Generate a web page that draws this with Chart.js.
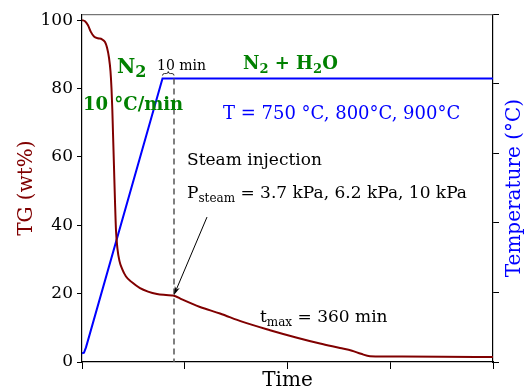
<!DOCTYPE html>
<html>
<head>
<meta charset="utf-8">
<script src="https://cdn.jsdelivr.net/npm/chart.js@4.4.1/dist/chart.umd.min.js"></script>
<style>
  html, body { margin: 0; padding: 0; background: #fff; }
</style>
</head>
<body>
<canvas id="c" width="528" height="392"></canvas>
<script>
// TG curve (time in min, mass in wt%)
const tgTime = [0, 3, 6, 9, 12, 16, 20, 23, 25, 27, 28.5, 29.5, 30.3, 31, 32, 33, 34, 35.5, 37.5, 40, 44, 50, 58, 66, 75, 84, 90, 92, 100, 118, 138, 160, 188, 215, 238, 258, 270, 279, 288, 320, 360, 411];
const tgWt = [100, 99.7, 98.5, 96.5, 95.2, 94.7, 94.4, 93.6, 92, 89, 85, 80, 74, 67, 57, 47, 38.5, 33, 29.5, 27.3, 25, 23.3, 21.6, 20.6, 19.9, 19.6, 19.45, 19.4, 18.3, 16.1, 14.2, 11.8, 9.3, 7.1, 5.4, 4.1, 3.3, 2.4, 1.7, 1.6, 1.55, 1.45];
// temperature programme
const tempTime = [0, 2, 4, 80.5, 411];
const tempC = [25, 27, 42, 815, 815];
const tgTicks = [0, 20, 40, 60, 80, 100];
const timeTicks = [0, 102.75, 205.5, 308.25, 411];
const tempTicks = [0, 200, 400, 600, 800, 1000];
const steamStart = 92;

const SERIF = "'DejaVu Serif', 'Liberation Serif', serif";
const RED = '#800000', BLUE = '#0000ff', GREEN = '#008000';

// draws text made of pieces, some of them sub-scripted
function richText(ctx, parts, x, y, color) {
  ctx.fillStyle = color;
  ctx.textBaseline = 'alphabetic';
  ctx.textAlign = 'left';
  let cx = x;
  parts.forEach(p => {
    ctx.font = p.font;
    ctx.fillText(p.t, cx, y + (p.dy || 0));
    cx += ctx.measureText(p.t).width;
  });
}

const annotations = {
  id: 'annotations',
  afterDatasetsDraw(chart) {
    const ctx = chart.ctx;
    const xs = chart.scales.x, ys = chart.scales.y, ts = chart.scales.y2;
    const X = v => xs.getPixelForValue(v);
    const Y = v => ys.getPixelForValue(v);
    const area = chart.chartArea;
    ctx.save();

    // top frame line
    ctx.strokeStyle = '#555';
    ctx.lineWidth = 1;
    ctx.beginPath();
    ctx.moveTo(area.left, area.top + 0.5);
    ctx.lineTo(area.right, area.top + 0.5);
    ctx.stroke();

    // dashed line at steam injection
    const plateauY = ts.getPixelForValue(tempC[tempC.length - 1]);
    ctx.strokeStyle = '#555';
    ctx.lineWidth = 1.5;
    ctx.setLineDash([6, 4]);
    ctx.beginPath();
    ctx.moveTo(X(steamStart), plateauY);
    ctx.lineTo(X(steamStart), area.bottom);
    ctx.stroke();
    ctx.setLineDash([]);

    // brace over the 10 min hold
    const bx1 = X(tempTime[3]), bx2 = X(steamStart), by = plateauY - 3;
    const bm = (bx1 + bx2) / 2;
    ctx.strokeStyle = '#000';
    ctx.lineWidth = 0.8;
    ctx.beginPath();
    ctx.moveTo(bx1, by);
    ctx.quadraticCurveTo(bx1, by - 2, bx1 + 2, by - 2);
    ctx.lineTo(bm - 2, by - 2);
    ctx.quadraticCurveTo(bm, by - 2, bm, by - 4);
    ctx.quadraticCurveTo(bm, by - 2, bm + 2, by - 2);
    ctx.lineTo(bx2 - 2, by - 2);
    ctx.quadraticCurveTo(bx2, by - 2, bx2, by);
    ctx.stroke();

    // arrow to the injection point
    const ax1 = X(125), ay1 = Y(42.4), ax2 = X(steamStart), ay2 = Y(19.6);
    const ang = Math.atan2(ay2 - ay1, ax2 - ax1);
    ctx.strokeStyle = '#000';
    ctx.fillStyle = '#000';
    ctx.lineWidth = 1;
    ctx.beginPath();
    ctx.moveTo(ax1, ay1);
    ctx.lineTo(ax2 - 6 * Math.cos(ang), ay2 - 6 * Math.sin(ang));
    ctx.stroke();
    ctx.beginPath();
    ctx.moveTo(ax2, ay2);
    ctx.lineTo(ax2 - 9 * Math.cos(ang - 0.3), ay2 - 9 * Math.sin(ang - 0.3));
    ctx.lineTo(ax2 - 6 * Math.cos(ang), ay2 - 6 * Math.sin(ang));
    ctx.lineTo(ax2 - 9 * Math.cos(ang + 0.3), ay2 - 9 * Math.sin(ang + 0.3));
    ctx.closePath();
    ctx.fill();

    const B = s => `bold ${s}px ${SERIF}`;
    const N = s => `${s}px ${SERIF}`;

    richText(ctx, [{t: 'N', font: B(20)}, {t: '2', font: B(16), dy: 4}], X(35), Y(84.5), GREEN);
    richText(ctx, [{t: '10 °C/min', font: B(18)}], X(1), Y(73.8), GREEN);
    richText(ctx, [{t: '10 min', font: N(14)}], X(75), Y(85.4), '#000');
    richText(ctx, [{t: 'N', font: B(18)}, {t: '2', font: B(13), dy: 4}, {t: ' + H', font: B(18)},
                   {t: '2', font: B(13), dy: 4}, {t: 'O', font: B(18)}], X(161), Y(85.6), GREEN);
    richText(ctx, [{t: 'T = 750 °C, 800°C, 900°C', font: N(18)}], X(141), Y(71), BLUE);
    richText(ctx, [{t: 'Steam injection', font: N(17)}], X(105), Y(57.5), '#000');
    richText(ctx, [{t: 'P', font: N(17)}, {t: 'steam', font: N(12), dy: 4},
                   {t: ' = 3.7 kPa, 6.2 kPa, 10 kPa', font: N(17)}], X(105), Y(48), '#000');
    richText(ctx, [{t: 't', font: N(17)}, {t: 'max', font: N(12), dy: 4},
                   {t: ' = 360 min', font: N(17)}], X(178), Y(11.8), '#000');

    // right axis title, reading upwards
    ctx.translate(515, (area.top + area.bottom) / 2);
    ctx.rotate(-Math.PI / 2);
    ctx.font = N(20);
    ctx.fillStyle = BLUE;
    ctx.textAlign = 'center';
    ctx.textBaseline = 'middle';
    ctx.fillText('Temperature (°C)', 0, 0);
    ctx.restore();
  }
};

new Chart(document.getElementById('c'), {
  type: 'line',
  data: {
    datasets: [
      {
        label: 'TG',
        data: tgTime.map((t, i) => ({x: t, y: tgWt[i]})),
        borderColor: RED,
        borderWidth: 2,
        pointRadius: 0,
        cubicInterpolationMode: 'monotone',
        yAxisID: 'y'
      },
      {
        label: 'Temperature',
        data: tempTime.map((t, i) => ({x: t, y: tempC[i]})),
        borderColor: BLUE,
        borderWidth: 2,
        pointRadius: 0,
        tension: 0,
        yAxisID: 'y2'
      }
    ]
  },
  options: {
    responsive: false,
    animation: false,
    layout: { padding: { top: 12, left: 0, right: 0, bottom: 0 } },
    plugins: { legend: { display: false }, tooltip: { enabled: false } },
    scales: {
      x: {
        type: 'linear',
        min: 0,
        max: 411,
        afterBuildTicks: s => { s.ticks = timeTicks.map(v => ({value: v})); },
        afterFit: s => { s.height = 30; },
        ticks: { display: false },
        grid: { drawOnChartArea: false, tickLength: 7, color: '#000', lineWidth: 1 },
        border: { color: '#000', width: 1.2 },
        title: { display: true, text: 'Time', color: '#000', font: { family: SERIF, size: 20, lineHeight: 1 }, padding: { bottom: 1 } }
      },
      y: {
        position: 'left',
        min: 0,
        max: 101.74,
        afterBuildTicks: s => { s.ticks = tgTicks.map(v => ({value: v})); },
        afterFit: s => { s.width = 82; },
        ticks: { color: '#000', font: { family: SERIF, size: 17 }, padding: 4 },
        grid: { drawOnChartArea: false, tickLength: 5, color: '#000', lineWidth: 1 },
        border: { color: '#000', width: 1.2 },
        title: { display: true, text: 'TG (wt%)', color: RED, font: { family: SERIF, size: 20 }, padding: { top: 15, bottom: 0 } }
      },
      y2: {
        position: 'right',
        min: 0,
        max: 1000,
        afterBuildTicks: s => { s.ticks = tempTicks.map(v => ({value: v})); },
        afterFit: s => { s.width = 35; },
        ticks: { display: false },
        grid: { drawOnChartArea: false, tickLength: 6, color: '#000', lineWidth: 1 },
        border: { color: '#000', width: 1.2 }
      }
    }
  },
  plugins: [annotations]
});
</script>
</body>
</html>
